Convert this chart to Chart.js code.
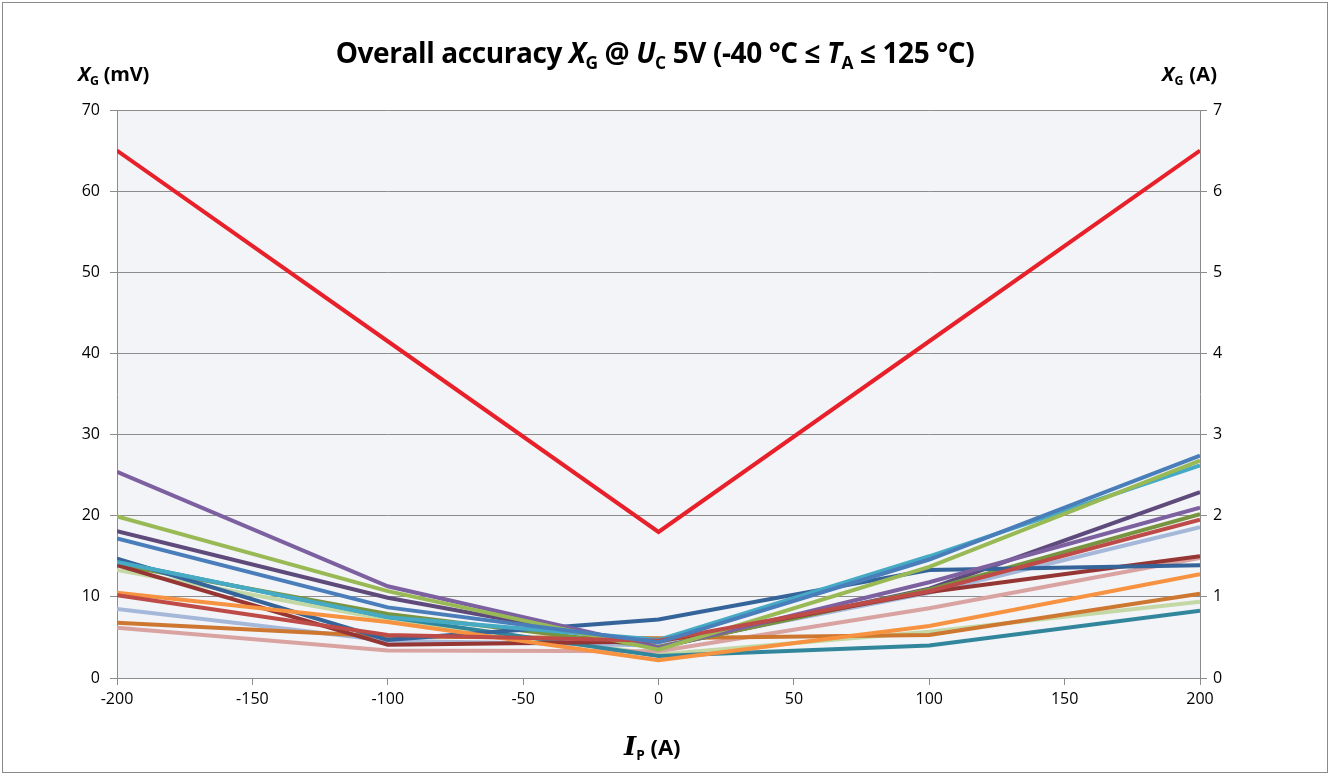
<!DOCTYPE html>
<html>
<head>
<meta charset="utf-8">
<script src="https://cdn.jsdelivr.net/npm/chart.js@4"></script>
<style>
    body { margin: 0; background: #fff; }
    #wrap { position: relative; width: 1332px; height: 777px; }
    #frame { position: absolute; left: 2px; top: 2px; width: 1326px; height: 771px; border: 1px solid #8a8a8a; box-sizing: border-box; }
    canvas { position: absolute; left: 0; top: 0; }
    .lbl { position: absolute; font-family: "Open Sans", sans-serif; font-weight: bold; color: #000; white-space: nowrap; }
    .lbl sub { font-size: 62%; vertical-align: -0.35em; }
    #title { left: 0; width: 1310px; top: 33px; text-align: center; font-size: 28px; letter-spacing: -0.4px; }
    #yTitleL { left: 78px; top: 60px; font-size: 20px; letter-spacing: -0.2px; }
    #yTitleR { left: 1162px; top: 60px; font-size: 20px; letter-spacing: 0.3px; }
    #xTitle { left: 624px; top: 731px; font-size: 22px; }
    .serif { font-family: "DejaVu Serif", serif; font-style: italic; font-size: 26px; }
</style>
</head>
<body>
<div id="wrap">
    <div id="frame"></div>
    <canvas id="chart" width="1332" height="777"></canvas>
    <div class="lbl" id="title">Overall accuracy <i>X</i><sub>G</sub> @ <i>U</i><sub>C</sub> 5V (-40 °C ≤ <i>T</i><sub>A</sub> ≤ 125 °C)</div>
    <div class="lbl" id="yTitleL"><i>X</i><sub>G</sub> (mV)</div>
    <div class="lbl" id="yTitleR"><i>X</i><sub>G</sub> (A)</div>
    <div class="lbl" id="xTitle"><span class="serif">I</span><sub>P</sub> (A)</div>
</div>
<script>
// primary current steps (A)
const currents = [-200, -100, 0, 100, 200];

// overall accuracy per sample (mV)
const limitLine   = [65.0, 41.5, 18.0, 41.5, 65.0];
const blue        = [17.2, 8.7, 4.4, 14.6, 27.4];
const red         = [10.2, 5.3, 4.6, 10.7, 19.5];
const green       = [19.9, 10.7, 3.5, 13.7, 26.8];
const purple      = [25.4, 11.3, 3.7, 11.8, 21.0];
const aqua        = [14.3, 7.5, 4.7, 15.0, 26.2];
const orange      = [10.5, 6.9, 2.2, 6.4, 12.8];
const darkBlue    = [14.7, 4.7, 7.2, 13.3, 13.9];
const darkRed     = [13.9, 4.1, 4.5, 10.6, 15.0];
const olive       = [14.0, 7.9, 3.8, 10.9, 20.2];
const darkPurple  = [18.1, 9.9, 3.8, 11.0, 22.9];
const teal        = [14.3, 7.5, 2.7, 4.0, 8.3];
const darkOrange  = [6.8, 5.1, 4.9, 5.3, 10.4];
const lightBlue   = [8.5, 4.6, 4.0, 10.5, 18.6];
const pink        = [6.2, 3.4, 3.3, 8.6, 14.8];
const lightGreen  = [13.3, 7.2, 2.9, 5.7, 9.4];

const yTicksLeft = [0, 10, 20, 30, 40, 50, 60, 70];
const yTicksRight = [0, 1, 2, 3, 4, 5, 6, 7];
const xTicks = [-200, -150, -100, -50, 0, 50, 100, 150, 200];

// first entry is drawn on top
const series = [
    { name: 'blue', data: blue, color: '#4a7ebb' },
    { name: 'red', data: red, color: '#be4b48' },
    { name: 'green', data: green, color: '#98b954' },
    { name: 'purple', data: purple, color: '#7d60a0' },
    { name: 'aqua', data: aqua, color: '#46aac5' },
    { name: 'orange', data: orange, color: '#f69240' },
    { name: 'darkBlue', data: darkBlue, color: '#35649a' },
    { name: 'darkRed', data: darkRed, color: '#963634' },
    { name: 'olive', data: olive, color: '#779440' },
    { name: 'darkPurple', data: darkPurple, color: '#5f4a7c' },
    { name: 'teal', data: teal, color: '#31869c' },
    { name: 'darkOrange', data: darkOrange, color: '#cd7731' },
    { name: 'lightBlue', data: lightBlue, color: '#a5b8da' },
    { name: 'pink', data: pink, color: '#d9a3a2' },
    { name: 'lightGreen', data: lightGreen, color: '#c4d8a6' },
    { name: 'limit', data: limitLine, color: '#e8202a' }
];

const gridColor = '#8c8c8c';
const tickFont = { family: 'Open Sans', size: 16 };

/**
 * Fill the plot area with the pale background
 */
const plotBackground = {
    id: 'plotBackground',
    beforeDraw(chart) {
        const { ctx, chartArea: a } = chart;
        ctx.save();
        ctx.fillStyle = '#f2f4f7';
        ctx.fillRect(a.left, a.top, a.right - a.left, a.bottom - a.top);
        ctx.restore();
    }
};

new Chart(document.getElementById('chart'), {
    type: 'line',
    data: {
        datasets: series.map(s => ({
            label: s.name,
            data: s.data.map((v, i) => ({ x: currents[i], y: v })),
            borderColor: s.color,
            backgroundColor: s.color,
            borderWidth: 4,
            pointRadius: 0,
            tension: 0,
            yAxisID: 'y'
        }))
    },
    options: {
        responsive: false,
        animation: false,
        layout: { padding: { top: 110, left: 0, right: 0, bottom: 0 } },
        plugins: {
            legend: { display: false },
            tooltip: { enabled: false }
        },
        scales: {
            x: {
                type: 'linear',
                min: -200,
                max: 200,
                afterBuildTicks: scale => { scale.ticks = xTicks.map(v => ({ value: v })); },
                afterFit: scale => { scale.height = 99; },
                grid: { drawOnChartArea: false, color: gridColor, tickLength: 7 },
                border: { color: gridColor },
                ticks: { color: '#000', font: tickFont, padding: 5, maxRotation: 0 }
            },
            y: {
                position: 'left',
                min: 0,
                max: 70,
                afterBuildTicks: scale => { scale.ticks = yTicksLeft.map(v => ({ value: v })); },
                afterFit: scale => { scale.width = 117; },
                grid: { color: gridColor, tickLength: 7 },
                border: { color: gridColor },
                ticks: { color: '#000', font: tickFont, padding: 10 }
            },
            y2: {
                position: 'right',
                min: 0,
                max: 7,
                afterBuildTicks: scale => { scale.ticks = yTicksRight.map(v => ({ value: v })); },
                afterFit: scale => { scale.width = 132; },
                grid: { drawOnChartArea: false, color: gridColor, tickLength: 7 },
                border: { color: gridColor },
                ticks: { color: '#000', font: tickFont, padding: 6 }
            }
        }
    },
    plugins: [plotBackground]
});
</script>
</body>
</html>
